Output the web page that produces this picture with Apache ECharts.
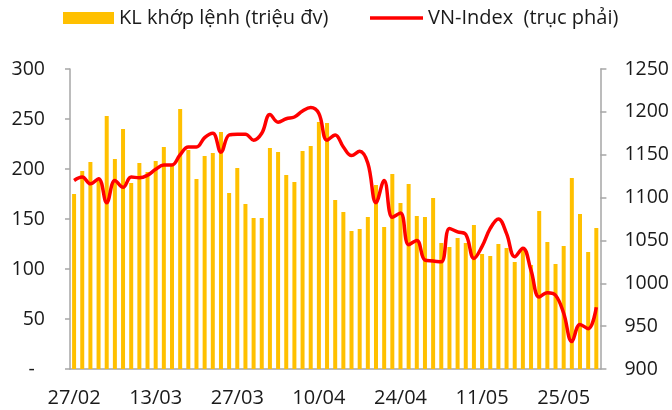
<!DOCTYPE html>
<html>
<head>
<meta charset="utf-8">
<script src="https://cdn.jsdelivr.net/npm/echarts@6/dist/echarts.min.js"></script>
<style>
html, body { margin: 0; padding: 0; background: #fff; }
#chart { width: 672px; height: 410px; }
</style>
</head>
<body>
<div id="chart"></div>
<script>
// phien giao dich 27/02 - 31/05
var days = ['27/02','28/02','01/03','02/03','05/03','06/03','07/03','08/03','09/03','12/03',
    '13/03','14/03','15/03','16/03','19/03','20/03','21/03','22/03','23/03','26/03',
    '27/03','28/03','29/03','30/03','02/04','03/04','04/04','05/04','06/04','09/04',
    '10/04','11/04','12/04','13/04','16/04','17/04','18/04','19/04','20/04','23/04',
    '24/04','26/04','27/04','02/05','03/05','04/05','07/05','08/05','09/05','10/05',
    '11/05','14/05','15/05','16/05','17/05','18/05','21/05','22/05','23/05','24/05',
    '25/05','28/05','29/05','30/05','31/05'];

// KL khop lenh (trieu dv)
var volume = [175,198,207,190,253,210,240,186,206,197,
    208,222,204,260,219,190,213,216,237,176,
    201,165,151,151,221,217,194,187,218,223,
    247,246,169,157,138,140,152,184,142,195,
    166,185,153,152,171,126,122,131,126,144,
    115,113,125,121,107,119,104,158,127,105,
    123,191,155,117,141];

// VN-Index (truc phai)
var vnIndex = [1120,1124,1116,1122,1094,1120,1112,1124,1123,1126,
    1133,1138,1138,1150,1159,1159,1170,1175,1153,1173,
    1174,1174,1167,1175,1197,1188,1192,1194,1201,1205,
    1198,1167,1173,1159,1149,1154,1140,1094,1120,1077,
    1082,1045,1050,1027,1026,1025,1064,1060,1057,1029,
    1043,1064,1075,1058,1031,1041,1015,984,989,986,
    965,932,952,947,972];

var volName = 'KL khớp lệnh (triệu đv)';
var idxName = 'VN-Index  (trục phải)';

var font = '"Open Sans", "Noto Sans", sans-serif';
var axisColor = '#a6a6a6';
var txt = { color: '#1a1a1a', fontSize: 20, fontFamily: font };
var ytxt = { color: '#1a1a1a', fontSize: 19.5, fontFamily: font };

var option = {
    animation: false,
    textStyle: { fontFamily: font },
    legend: [
        {
            data: [volName], left: 63, top: 8, padding: 0,
            itemWidth: 51, itemHeight: 12, icon: 'rect',
            textStyle: txt
        },
        {
            data: [idxName], left: 370, top: 8, padding: 0,
            itemWidth: 53, itemHeight: 3.5, icon: 'rect',
            itemStyle: { color: '#ff0000' },
            textStyle: txt
        }
    ],
    grid: { left: 70, right: 69, top: 69, bottom: 41 },
    xAxis: {
        type: 'category',
        data: days,
        boundaryGap: true,
        axisLine: { lineStyle: { color: axisColor, width: 1.5 } },
        axisTick: { interval: 9, length: 7, lineStyle: { color: axisColor, width: 1.5 } },
        axisLabel: Object.assign({ interval: 9, margin: 19 }, txt)
    },
    yAxis: [
        {
            type: 'value', min: 0, max: 300, interval: 50,
            splitLine: { show: false },
            axisLine: { show: true, lineStyle: { color: axisColor, width: 1.5 } },
            axisTick: { show: true, length: 5, lineStyle: { color: axisColor, width: 1.5 } },
            axisLabel: Object.assign({
                margin: 25,
                formatter: function (v) { return v === 0 ? '-  ' : String(v); }
            }, ytxt)
        },
        {
            type: 'value', min: 900, max: 1250, interval: 50,
            splitLine: { show: false },
            axisLine: { show: true, lineStyle: { color: axisColor, width: 1.5 } },
            axisTick: { show: true, length: 6, lineStyle: { color: axisColor, width: 1.5 } },
            axisLabel: Object.assign({
                margin: 24,
                formatter: function (v) { return String(v); }
            }, ytxt)
        }
    ],
    series: [
        {
            name: volName,
            type: 'bar',
            data: volume,
            barWidth: 4,
            itemStyle: { color: '#ffc000' }
        },
        {
            name: idxName,
            type: 'line',
            yAxisIndex: 1,
            data: vnIndex,
            smooth: 0.4,
            symbol: 'none',
            lineStyle: { color: '#ff0000', width: 3.5 },
            itemStyle: { color: '#ff0000' }
        }
    ]
};

var myChart = echarts.init(document.getElementById('chart'));
myChart.setOption(option);
</script>
</body>
</html>
